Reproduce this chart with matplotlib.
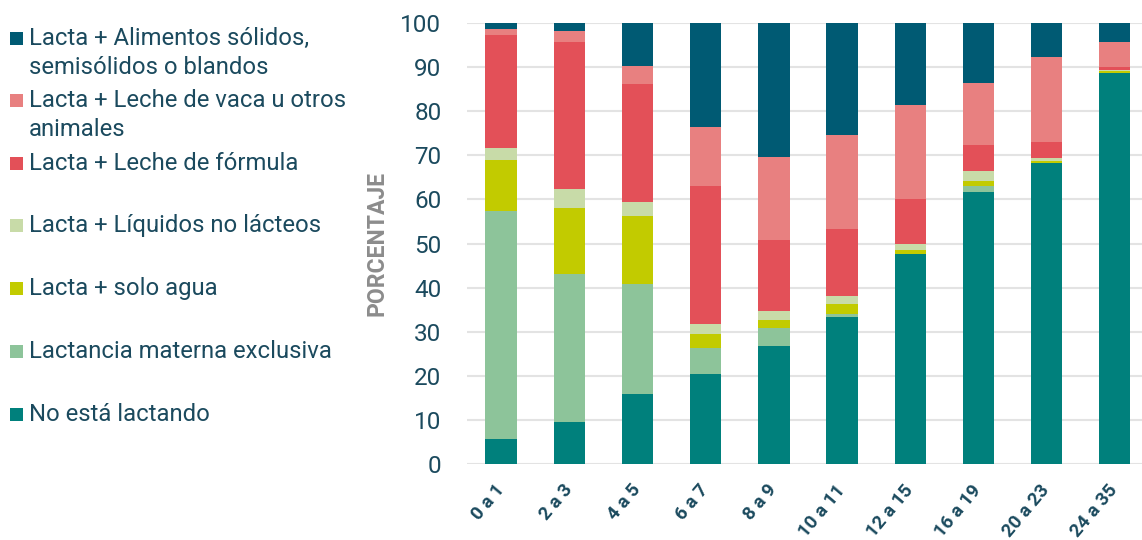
import matplotlib
matplotlib.use("Agg")
import matplotlib.pyplot as plt
from matplotlib.patches import Rectangle
import numpy as np

plt.rcParams['font.family'] = ['Roboto', 'DejaVu Sans']

age_groups = ["0 a 1", "2 a 3", "4 a 5", "6 a 7", "8 a 9",
              "10 a 11", "12 a 15", "16 a 19", "20 a 23", "24 a 35"]

# Percentages per feeding category (stacked bottom to top)
no_lactando = [5.7, 9.6, 15.9, 20.3, 26.7, 33.3, 47.6, 61.6, 68.3, 88.6]
exclusiva = [51.6, 33.6, 24.9, 6.1, 4.1, 0.8, 0.0, 1.5, 0.0, 0.0]
solo_agua = [11.6, 14.9, 15.5, 3.1, 1.8, 2.1, 1.0, 1.1, 0.3, 0.5]
liquidos = [2.8, 4.2, 3.0, 2.2, 2.1, 2.0, 1.4, 2.2, 0.9, 0.3]
formula = [25.5, 33.4, 26.8, 31.4, 16.1, 15.0, 10.2, 6.0, 3.5, 0.6]
leche_vaca = [1.5, 2.6, 4.1, 13.3, 18.9, 21.4, 21.2, 14.1, 19.4, 5.8]
solidos = [1.3, 1.7, 9.8, 23.6, 30.3, 25.4, 18.6, 13.5, 7.6, 4.2]

series = [
    ("No está lactando", no_lactando, "#00807C"),
    ("Lactancia materna exclusiva", exclusiva, "#8DC49A"),
    ("Lacta + solo agua", solo_agua, "#C2CB00"),
    ("Lacta + Líquidos no lácteos", liquidos, "#C8DBA8"),
    ("Lacta + Leche de fórmula", formula, "#E35058"),
    ("Lacta + Leche de vaca u otros\nanimales", leche_vaca, "#E88080"),
    ("Lacta + Alimentos sólidos,\nsemisólidos o blandos", solidos, "#005A73"),
]

text_color = "#1B4A5E"
W, H = 1142, 540

fig = plt.figure(figsize=(W / 100, H / 100), dpi=100)
ax = fig.add_axes([0.409, 0.1407, 0.591, 0.8167])

x = np.arange(len(age_groups))
bottom = np.zeros(len(age_groups))
for name, vals, color in series:
    vals = np.array(vals)
    ax.bar(x, vals, bottom=bottom, width=0.46, color=color, zorder=3)
    bottom += vals

ax.set_xlim(-0.5, 9.4)
ax.set_ylim(0, 100)
ax.set_yticks(np.arange(0, 101, 10))
ax.yaxis.grid(True, color="#E3E3E3", linewidth=1.5, zorder=0)
ax.tick_params(axis="y", length=0, pad=18.5, labelsize=17.5, labelcolor=text_color)
ax.tick_params(axis="x", length=0, pad=16.5)
ax.set_xticks(x)
ax.set_xticklabels(age_groups, rotation=50, ha="right", va="center",
                   rotation_mode="anchor", fontsize=13.5, fontweight="bold",
                   color=text_color)
for s in ax.spines.values():
    s.set_visible(False)

fig.text(377 / W, 1 - 243 / H, "PORCENTAJE", rotation=90, ha="center",
         va="center", fontsize=16.5, fontweight="bold", color="#8C8C8C")

# Legend on the left, top entry first; each line placed on its own baseline
legend_baselines = [45, 107, 170, 232, 295, 358, 421]
line_pitch = 28.5
for (name, vals, color), base in zip(series[::-1], legend_baselines):
    fig.patches.append(Rectangle((9.5 / W, 1 - base / H), 13 / W, 13 / H,
                                 transform=fig.transFigure,
                                 facecolor=color, edgecolor="none"))
    for i, line in enumerate(name.split("\n")):
        fig.text(29 / W, 1 - (base + i * line_pitch) / H, line, ha="left",
                 va="baseline", fontsize=17.2, color=text_color)

fig.savefig("out.png", dpi=100)
